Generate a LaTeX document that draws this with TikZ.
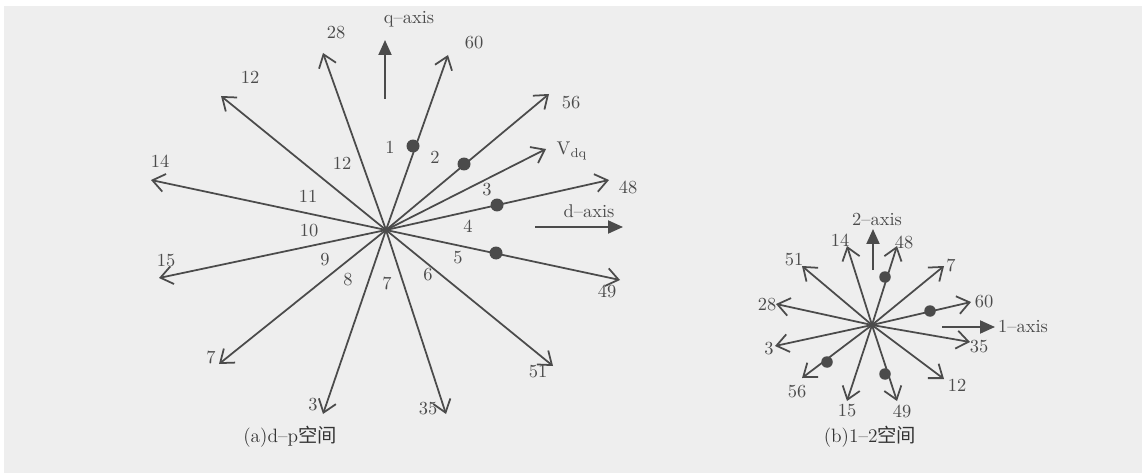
\documentclass[tikz,border=0pt]{standalone}
\usepackage{fontspec}
\usetikzlibrary{arrows.meta}
\newfontfamily\cjk{Noto Sans CJK SC}
\definecolor{vecgray}{RGB}{75,75,75}
\definecolor{paper}{RGB}{238,238,238}
\tikzset{
  vec/.style={-{Straight Barb[length=2.4mm,width=3.6mm]}, line width=1pt, draw=vecgray},
  axisarrow/.style={-{Triangle[length=3mm,width=2.6mm]}, line width=1.1pt, draw=vecgray},
  swdot/.style={circle, fill=vecgray, inner sep=0pt, minimum size=2.6mm},
  num/.style={font=\fontsize{10.5}{12}\selectfont, text=vecgray, inner sep=1pt},
  caption/.style={font=\fontsize{11}{13}\selectfont, text=black!80}
}
\begin{document}
\begin{tikzpicture}[x=0.02cm, y=-0.02cm]
\useasboundingbox (0,0) rectangle (1146,473);
\fill[paper] (4,6) rectangle (1142,473);

% (a) d-q space
\coordinate (O) at (386,230);
\coordinate (t28) at (323,53);
\coordinate (t60) at (448,55);
\coordinate (t12) at (221,96);
\coordinate (t56) at (549,94);
\coordinate (tvdq) at (546,149);
\coordinate (t48) at (609,180);
\coordinate (t14) at (151,180);
\coordinate (t15) at (159,278);
\coordinate (t49) at (620,280);
\coordinate (t7) at (219,364);
\coordinate (t3) at (323,414);
\coordinate (t35) at (446,414);
\coordinate (t51) at (553,366);

\foreach \t in {t28,t60,t12,t56,tvdq,t48,t14,t15,t49,t7,t3,t35,t51}
  \draw[vec] (O) -- (\t);

\node[num] (l28) at (336,33) {28};
\node[num] (l60) at (474,43) {60};
\node[num] (l12) at (250,77) {12};
\node[num] (l56) at (571,103) {56};
\node[num] (lvdq) at (572,151) {V$_{\mathrm{dq}}$};
\node[num] (l48) at (628,187) {48};
\node[num] (l14) at (160,161) {14};
\node[num] (l15) at (166,261) {15};
\node[num] (l49) at (607,291) {49};
\node[num] (l7) at (211,357) {7};
\node[num] (l3) at (313,405) {3};
\node[num] (l35) at (428,409) {35};
\node[num] (l51) at (538,372) {51};

% sector numbers
\node[num] (s1) at (390,147) {1};
\node[num] (s2) at (435,157) {2};
\node[num] (s3) at (487,190) {3};
\node[num] (s4) at (468,226) {4};
\node[num] (s5) at (458,258) {5};
\node[num] (s6) at (428,275) {6};
\node[num] (s7) at (387,283) {7};
\node[num] (s8) at (348,280) {8};
\node[num] (s9) at (325,260) {9};
\node[num] (s10) at (309,231) {10};
\node[num] (s11) at (308,196) {11};
\node[num] (s12) at (342,163) {12};

\node[swdot] (d1) at (413,146) {};
\node[swdot] (d2) at (464,164) {};
\node[swdot] (d3) at (497,205) {};
\node[swdot] (d5) at (496,253) {};

\coordinate (qa) at (385,99);
\coordinate (qb) at (385,40);
\draw[axisarrow] (qa) -- (qb);
\node[num] (lq) at (409,19) {q--axis};
\coordinate (da) at (535,227);
\coordinate (db) at (623,227);
\draw[axisarrow] (da) -- (db);
\node[num] (ld) at (589,211) {d--axis};

\node[caption] (capa) at (290,437) {(a)d--p{\cjk 空间}};

% (b) 1-2 space
\coordinate (P) at (872,325);
\coordinate (u14) at (847,246);
\coordinate (u48) at (897,246);
\coordinate (u51) at (802,266);
\coordinate (u7) at (944,266);
\coordinate (u28) at (776,304);
\coordinate (u60) at (971,302);
\coordinate (u3) at (775,346);
\coordinate (u35) at (970,342);
\coordinate (u56) at (802,378);
\coordinate (u12) at (944,379);
\coordinate (u15) at (847,401);
\coordinate (u49) at (897,401);

\foreach \u in {u14,u48,u51,u7,u28,u60,u3,u35,u56,u12,u15,u49}
  \draw[vec] (P) -- (\u);

\node[num] (m14) at (840,240) {14};
\node[num] (m48) at (904,242) {48};
\node[num] (m51) at (794,260) {51};
\node[num] (m7) at (951,265) {7};
\node[num] (m28) at (767,305) {28};
\node[num] (m60) at (984,302) {60};
\node[num] (m3) at (769,349) {3};
\node[num] (m35) at (979,347) {35};
\node[num] (m56) at (797,392) {56};
\node[num] (m12) at (957,385) {12};
\node[num] (m15) at (847,411) {15};
\node[num] (m49) at (902,411) {49};

\node[swdot, minimum size=2.3mm] (e48) at (885,277) {};
\node[swdot, minimum size=2.3mm] (e60) at (930,311) {};
\node[swdot, minimum size=2.3mm] (e56) at (827,362) {};
\node[swdot, minimum size=2.3mm] (e49) at (885,374) {};

\coordinate (ya) at (873,270);
\coordinate (yb) at (873,229);
\draw[axisarrow] (ya) -- (yb);
\node[num] (l2ax) at (877,219) {2--axis};
\coordinate (xa) at (942,327);
\coordinate (xb) at (995,327);
\draw[axisarrow] (xa) -- (xb);
\node[num] (l1ax) at (1023,326) {1--axis};

\node[caption] (capb) at (870,437) {(b)1--2{\cjk 空间}};
\end{tikzpicture}
\end{document}
